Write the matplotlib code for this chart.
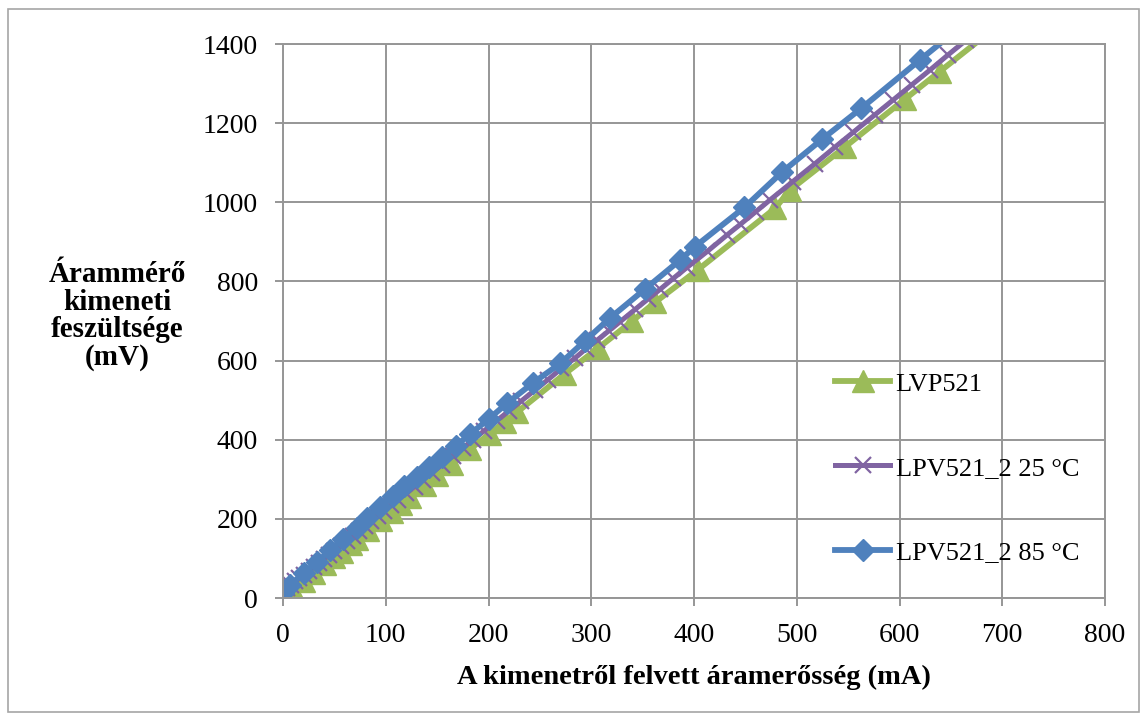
import matplotlib
matplotlib.use('Agg')
import matplotlib.pyplot as plt
from matplotlib.patches import Rectangle

# data
lvp_x = [0, 10, 20, 30, 41, 50, 57, 66, 72, 83, 95, 106, 115, 124, 138, 150, 164, 182, 201, 216,
         228, 274, 307, 340, 362, 404, 479, 493, 547, 605, 639, 690]
lvp_y = [0, 20, 42, 62, 85, 103, 117, 136, 149, 171, 196, 218, 238, 256, 285, 310, 338, 376, 415, 446,
         470, 566, 632, 700, 747, 830, 985, 1030, 1140, 1260, 1330, 1435]

lpv25_x = [0, 4, 8, 12, 16, 20, 25, 30, 35, 40, 45, 50, 56, 62, 68, 74, 80, 86, 92, 98,
           105, 112, 120, 128, 136, 145, 155, 165, 175, 185, 196, 208, 220, 232, 245, 258, 271, 284, 295, 306,
           317, 328, 343, 355, 367, 380, 393, 413, 432, 445, 460, 474, 496, 518, 537, 555, 576, 594, 612, 630,
           647, 665]
lpv25_y = [20, 26, 34, 42, 50, 57, 68, 78, 88, 99, 109, 120, 132, 144, 157, 169, 182, 194, 207, 219,
           234, 248, 265, 281, 298, 317, 337, 358, 379, 400, 423, 448, 473, 498, 525, 552, 580, 606, 630, 652,
           675, 698, 730, 755, 780, 808, 835, 876, 917, 944, 976, 1006, 1052, 1098, 1139, 1177, 1221, 1259, 1297, 1335,
           1372, 1410]

lpv85_x = [0, 7, 20, 33, 46, 58, 72, 82, 94, 107, 118, 130, 142, 155, 168, 182, 200, 218, 243, 270,
           294, 318, 352, 386, 401, 449, 486, 525, 563, 620, 672]
lpv85_y = [13, 33, 63, 91, 121, 150, 177, 203, 230, 258, 283, 306, 331, 356, 384, 414, 452, 492, 543, 593,
           650, 707, 780, 853, 888, 987, 1077, 1160, 1238, 1360, 1470]

labels = ['LVP521', 'LPV521_2 25 °C', 'LPV521_2 85 °C']
x_ticks = [0, 100, 200, 300, 400, 500, 600, 700, 800]
y_ticks = [0, 200, 400, 600, 800, 1000, 1200, 1400]

plt.rcParams['font.family'] = ['Liberation Serif', 'DejaVu Serif']
grid_c = '#969696'

fig = plt.figure(figsize=(11.47, 7.19), dpi=100)
ax = fig.add_axes([283 / 1147, 1 - 598 / 719, 822 / 1147, 554 / 719])

ax.plot(lvp_x, lvp_y, color='#9BBB59', lw=4.2, marker='^', ms=16, label=labels[0])
ax.plot(lpv25_x, lpv25_y, color='#8064A2', lw=3.6, marker='x', ms=12, mew=1.6, label=labels[1])
ax.plot(lpv85_x, lpv85_y, color='#4F81BD', lw=4.2, marker='D', ms=11, label=labels[2])

ax.set_xlim(0, 800)
ax.set_ylim(0, 1400)
ax.set_xticks(x_ticks)
ax.set_yticks(y_ticks)
ax.grid(True, color=grid_c, lw=1.4)
ax.set_axisbelow(True)
for s in ax.spines.values():
    s.set_color(grid_c)
    s.set_linewidth(1.4)
ax.tick_params(direction='out', length=6, width=1.4, color=grid_c, labelsize=20)
ax.tick_params(axis='x', pad=12)
ax.tick_params(axis='y', pad=12)

ax.set_xlabel('A kimenetről felvett áramerősség (mA)', fontsize=20.5, fontweight='bold', labelpad=12)
fig.text(117 / 1147, 1 - 316 / 719, 'Árammérő\nkimeneti\nfeszültsége\n(mV)', fontsize=21,
         fontweight='bold', ha='center', va='center', multialignment='center', linespacing=1.03)

ax.legend(loc='center left', bbox_to_anchor=(0.6715, 0.2347), frameon=False, fontsize=19,
          handlelength=2.1, handletextpad=0.2, labelspacing=2.3, borderpad=0, borderaxespad=0,
          numpoints=1)

fig.patches.append(Rectangle((8 / 1147, 1 - 712 / 719), 1131 / 1147, 703 / 719, transform=fig.transFigure,
                             fill=False, edgecolor='#a6a6a6', lw=1.2))

fig.savefig('out.png', dpi=100)
